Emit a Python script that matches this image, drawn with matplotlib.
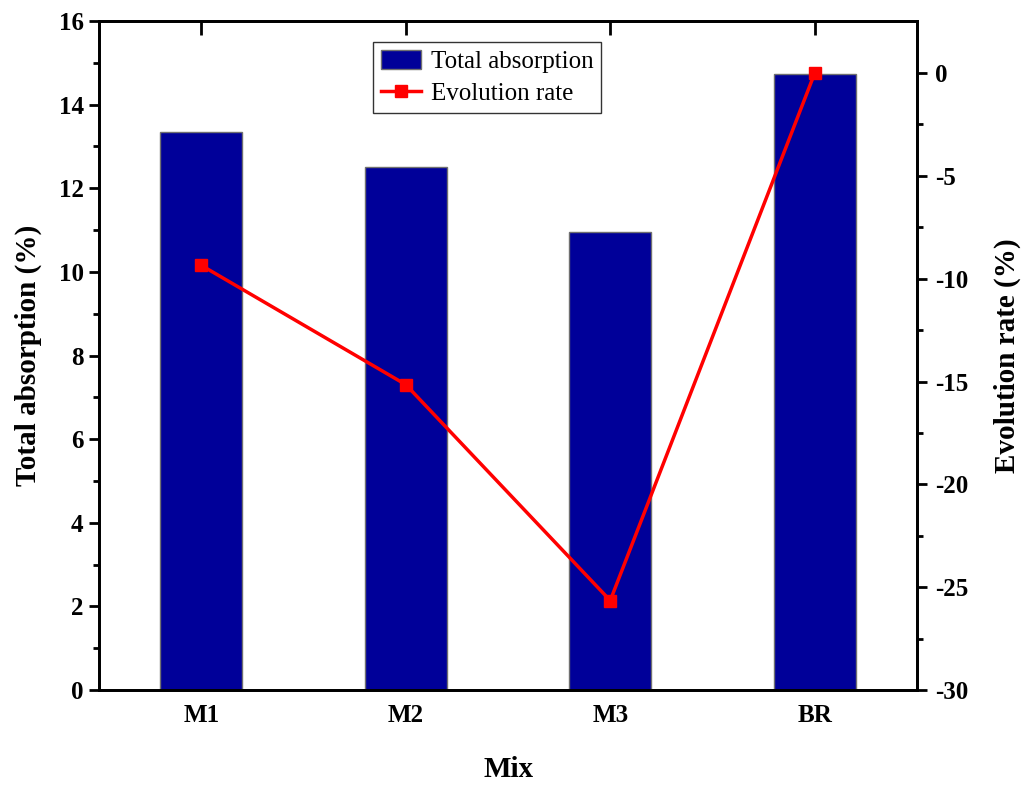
import matplotlib
matplotlib.use("Agg")
import matplotlib.pyplot as plt
import numpy as np

# Mixes and measured values
mixes = ["M1", "M2", "M3", "BR"]
total_absorption = [13.35, 12.5, 10.95, 14.73]
evolution_rate = [-9.35, -15.15, -25.65, 0.0]

plt.rcParams["font.family"] = ["Liberation Serif", "DejaVu Serif"]
plt.rcParams["axes.unicode_minus"] = False

fig = plt.figure(figsize=(10.24, 7.85), dpi=100)
ax = fig.add_axes([0.0967, 0.121, 0.7988, 0.8522])

x = np.arange(len(mixes))
bars = ax.bar(x, total_absorption, width=0.4, color="#000099",
              edgecolor="#707070", linewidth=1.0, label="Total absorption", zorder=2)
ax.set_xlim(-0.5, 3.5)
ax.set_ylim(0, 16)
ax.set_yticks(np.arange(0, 17, 2))
ax.set_yticks(np.arange(1, 16, 2), minor=True)
ax.set_xticks(x)
ax.set_xticklabels(mixes)

ax2 = ax.twinx()
line, = ax2.plot(x, evolution_rate, color="#ff0000", linewidth=2.5, marker="s",
                 markersize=9, label="Evolution rate", zorder=3)
ax2.set_ylim(-30, 2.53)
ax2.set_yticks(np.arange(-30, 1, 5))
ax2.set_yticks(np.arange(-27.5, 1, 5), minor=True)

for a in (ax, ax2):
    for s in a.spines.values():
        s.set_linewidth(2.0)

ax.tick_params(axis="y", which="major", direction="out", length=7, width=2,
               labelsize=18, pad=4)
ax.tick_params(axis="y", which="minor", direction="out", length=4, width=2)
ax.tick_params(axis="x", which="major", bottom=False, top=True, direction="in",
               length=10, width=2, labelsize=18, pad=10)
ax2.tick_params(axis="y", which="major", direction="out", length=7, width=2,
                labelsize=18, pad=6)
ax2.tick_params(axis="y", which="minor", direction="out", length=4, width=2)

for lbl in ax.get_xticklabels() + ax.get_yticklabels() + ax2.get_yticklabels():
    lbl.set_fontweight("bold")

ax.set_xlabel("Mix", fontsize=21, fontweight="bold", labelpad=21)
ax.set_ylabel("Total absorption (%)", fontsize=21, fontweight="bold", labelpad=12)
ax2.set_ylabel("Evolution rate (%)", fontsize=21, fontweight="bold", labelpad=18)

leg = ax.legend([bars, line], ["Total absorption", "Evolution rate"],
                loc="upper left", bbox_to_anchor=(0.335, 0.968), fontsize=18,
                frameon=True, fancybox=False, edgecolor="black",
                handlelength=1.6, handleheight=0.8, handletextpad=0.4,
                borderpad=0.3, labelspacing=0.35, borderaxespad=0)
leg.get_frame().set_linewidth(1.0)
leg.set_zorder(5)

fig.savefig("out.png", dpi=100)
